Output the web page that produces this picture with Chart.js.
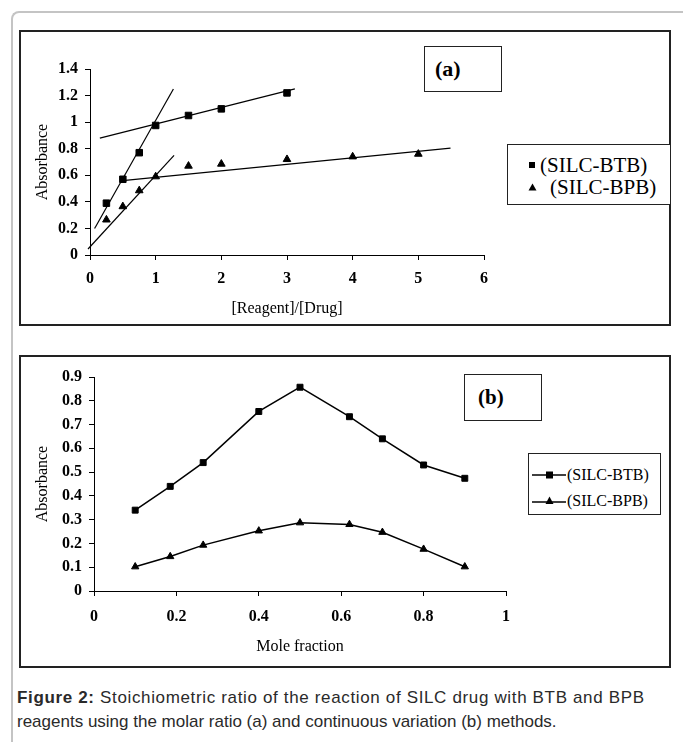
<!DOCTYPE html>
<html>
<head>
<meta charset="utf-8">
<title>Figure 2</title>
<script src="https://cdn.jsdelivr.net/npm/chart.js@4.4.0/dist/chart.umd.min.js"></script>
<style>
  body { margin: 0; background: #fff; width: 683px; height: 742px; position: relative; overflow: hidden;
         font-family: "Liberation Serif", "Times New Roman", serif; color: #000; }
  .outer { position: absolute; left: 11px; top: 11px; width: 720px; height: 780px;
           border-left: 2px solid #c4c4c4; border-top: 2px solid #c4c4c4; border-top-left-radius: 8px; }
  .panel { position: absolute; left: 19px; width: 652px; box-sizing: border-box; border: 2px solid #222; }
  #panelA { top: 30px; height: 296px; }
  #panelB { top: 355px; height: 313px; }
  .panel canvas { position: absolute; left: 0; top: 0; }
  .tag { position: absolute; box-sizing: border-box; border: 1px solid #222; font-weight: bold; background: #fff; }
  .legend { position: absolute; box-sizing: border-box; border: 1px solid #222; background: #fff; }
  .row { position: absolute; left: 0; white-space: nowrap; }
  .row span { position: absolute; }
  .caption { position: absolute; left: 17px; top: 686px; width: 670px; white-space: nowrap;
             font-family: "Liberation Sans", Arial, sans-serif;
             font-size: 17px; line-height: 24px; color: #2a2a2a; }
  .caption .wide { letter-spacing: 0.65px; }
</style>
</head>
<body>
<div class="outer"></div>

<div class="panel" id="panelA"><canvas id="chartA" width="648" height="292"></canvas></div>
<div class="tag" style="left:424px; top:46px; width:78px; height:46px; font-size:22px; line-height:44px; padding-left:10px;">(a)</div>
<div class="legend" style="left:507px; top:144px; width:164px; height:61px; font-size:21px;">
  <div class="row" style="top:10px;"><svg style="position:absolute; left:20px; top:6px;" width="8" height="8"><rect x="1" y="1" width="6" height="6" fill="#000"/></svg><span style="left:32px; top:-2px;">(SILC-BTB)</span></div>
  <div class="row" style="top:32px;"><svg style="position:absolute; left:20px; top:6px;" width="9" height="8"><polygon points="4.5,0.5 8.5,7.5 0.5,7.5" fill="#000"/></svg><span style="left:42px; top:-2px;">(SILC-BPB)</span></div>
</div>

<div class="panel" id="panelB"><canvas id="chartB" width="648" height="309"></canvas></div>
<div class="tag" style="left:464px; top:374px; width:78px; height:47px; font-size:21px; line-height:45px; padding-left:13px;">(b)</div>
<div class="legend" style="left:528px; top:453px; width:133px; height:62px; font-size:16px;">
  <div class="row" style="top:12px;"><svg style="position:absolute; left:2px; top:3px;" width="36" height="12"><line x1="1" y1="6" x2="35" y2="6" stroke="#000" stroke-width="1.5"/><rect x="15" y="2.5" width="7" height="7" fill="#000"/></svg><span style="left:38px; top:0;">(SILC-BTB)</span></div>
  <div class="row" style="top:38px;"><svg style="position:absolute; left:2px; top:3px;" width="36" height="12"><line x1="1" y1="7" x2="35" y2="7" stroke="#000" stroke-width="1.5"/><polygon points="18.5,1.5 22.5,9 14.5,9" fill="#000"/></svg><span style="left:38px; top:0;">(SILC-BPB)</span></div>
</div>

<div class="caption"><span class="wide"><b>Figure 2:</b> Stoichiometric ratio of the reaction of SILC drug with BTB and BPB</span><br>reagents using the molar ratio (a) and continuous variation (b) methods.</div>

<script>
// (a) molar ratio method
const ratioX = [0.25, 0.5, 0.75, 1, 1.5, 2, 3, 4, 5];
const btbRatio = [0.39, 0.57, 0.77, 0.975, 1.05, 1.10, 1.22];
const bpbRatio = [0.265, 0.365, 0.485, 0.59, 0.67, 0.685, 0.72, 0.74, 0.76];
// straight fitted lines, end points
const btbFitSteep = [[0.07, 0.2], [1.27, 1.25]];
const btbFitFlat = [[0.15, 0.88], [3.12, 1.25]];
const bpbFitSteep = [[-0.03, 0.045], [1.28, 0.75]];
const bpbFitFlat = [[0.46, 0.558], [5.49, 0.805]];
const ticksAx = [0, 1, 2, 3, 4, 5, 6];
const ticksAy = [0, 0.2, 0.4, 0.6, 0.8, 1, 1.2, 1.4];

// (b) continuous variation method
const moleX = [0.1, 0.185, 0.265, 0.4, 0.5, 0.62, 0.7, 0.8, 0.9];
const btbMole = [0.34, 0.44, 0.54, 0.755, 0.857, 0.733, 0.64, 0.53, 0.474];
const bpbMole = [0.102, 0.145, 0.193, 0.253, 0.287, 0.28, 0.247, 0.176, 0.102];
const ticksBx = [0, 0.2, 0.4, 0.6, 0.8, 1];
const ticksBy = [0, 0.1, 0.2, 0.3, 0.4, 0.5, 0.6, 0.7, 0.8, 0.9];

const pts = (xs, ys) => ys.map((y, i) => ({ x: xs[i], y: y }));
const seg = (pairs) => pairs.map((p) => ({ x: p[0], y: p[1] }));

const tickFont = { family: 'Liberation Serif', size: 16, weight: 'bold' };
const titleFont = { family: 'Liberation Serif', size: 16 };

function axis(ticks, size, tickPad, title, titlePad, horizontal) {
  return {
    type: 'linear',
    position: horizontal ? 'bottom' : 'left',
    min: ticks[0],
    max: ticks[ticks.length - 1],
    afterBuildTicks: (s) => { s.ticks = ticks.map((v) => ({ value: v })); },
    afterFit: (s) => { if (horizontal) s.height = size; else s.width = size; },
    border: { color: '#000', width: 1 },
    grid: { drawOnChartArea: false, color: '#000', tickLength: 5 },
    ticks: {
      color: '#000', font: tickFont, padding: tickPad, maxRotation: 0,
      callback: (v) => String(+v.toFixed(2)),
    },
    title: { display: true, text: title, color: '#000', font: titleFont, padding: titlePad },
  };
}

const trend = (pairs) => ({
  data: seg(pairs),
  showLine: true,
  borderColor: '#000',
  borderWidth: 1.2,
  pointRadius: 0,
  clip: false,
});

new Chart(document.getElementById('chartA'), {
  type: 'scatter',
  data: {
    datasets: [
      { data: pts(ratioX, btbRatio), pointStyle: 'rect', pointRadius: 4.6, backgroundColor: '#000', borderColor: '#000', borderWidth: 1 },
      { data: pts(ratioX, bpbRatio), pointStyle: 'triangle', pointRadius: 4.4, backgroundColor: '#000', borderColor: '#000', borderWidth: 1 },
      trend(btbFitSteep),
      trend(btbFitFlat),
      trend(bpbFitSteep),
      trend(bpbFitFlat),
    ],
  },
  options: {
    responsive: false,
    animation: false,
    devicePixelRatio: 1,
    layout: { padding: { left: 0, right: 185, top: 37, bottom: 0 } },
    scales: {
      x: axis(ticksAx, 69, 9, '[Reagent]/[Drug]', { top: 0, bottom: 6 }, true),
      y: axis(ticksAy, 69, 7, 'Absorbance', { top: 12, bottom: 0 }, false),
    },
    plugins: { legend: { display: false }, tooltip: { enabled: false } },
  },
});

new Chart(document.getElementById('chartB'), {
  type: 'line',
  data: {
    datasets: [
      { label: '(SILC-BTB)', data: pts(moleX, btbMole), pointStyle: 'rect', pointRadius: 4.2, borderColor: '#000', backgroundColor: '#000', borderWidth: 1.5, pointBorderWidth: 1 },
      { label: '(SILC-BPB)', data: pts(moleX, bpbMole), pointStyle: 'triangle', pointRadius: 4.2, borderColor: '#000', backgroundColor: '#000', borderWidth: 1.5, pointBorderWidth: 1 },
    ],
  },
  options: {
    responsive: false,
    animation: false,
    devicePixelRatio: 1,
    layout: { padding: { left: 0, right: 163, top: 20, bottom: 0 } },
    scales: {
      x: axis(ticksBx, 75, 11, 'Mole fraction', { top: 0, bottom: 10 }, true),
      y: axis(ticksBy, 73, 7, 'Absorbance', { top: 12, bottom: 0 }, false),
    },
    plugins: { legend: { display: false }, tooltip: { enabled: false } },
  },
});
</script>
</body>
</html>
